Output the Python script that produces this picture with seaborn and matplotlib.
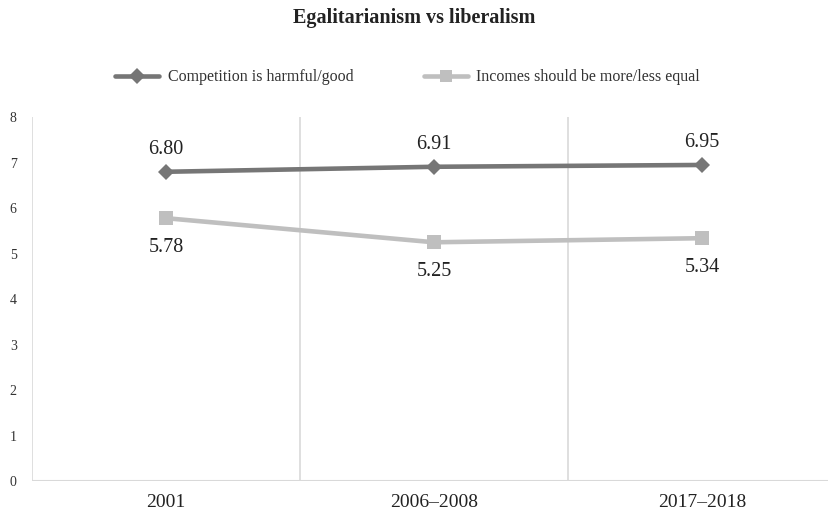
import pandas as pd
import matplotlib.pyplot as plt
import seaborn as sns

# -------------------------------------------------
# DATA
# -------------------------------------------------
periods = ["2001", "2006\u20132008", "2017\u20132018"]
competition = [6.80, 6.91, 6.95]
incomes = [5.78, 5.25, 5.34]
series_names = ["Competition is harmful/good", "Incomes should be more/less equal"]
y_ticks = [0, 1, 2, 3, 4, 5, 6, 7, 8]

df = pd.DataFrame({
    "period": periods * 2,
    "value": competition + incomes,
    "series": [series_names[0]] * 3 + [series_names[1]] * 3,
})

sns.set_style("white")
plt.rcParams["font.family"] = ["Liberation Serif", "DejaVu Serif"]

colors = {series_names[0]: "#767676", series_names[1]: "#bfbfbf"}
markers = {series_names[0]: "D", series_names[1]: "s"}

fig = plt.figure(figsize=(8.29, 5.14), dpi=100)
ax = fig.add_axes([0.0386, 0.064, 0.9614, 0.708])

sns.lineplot(data=df, x="period", y="value", hue="series", style="series",
             palette=colors, markers=markers, dashes=False, linewidth=3.3,
             markersize=9, markeredgewidth=0, sort=False, ax=ax, legend=False)

# diamond looks bigger than square at the same size
ax.lines[0].set_markersize(8.5)
ax.lines[1].set_markersize(10)

for i, v in enumerate(competition):
    ax.annotate(f"{v:.2f}", (i, v), xytext=(0, 9), textcoords="offset points",
                ha="center", va="bottom", fontsize=14.5, color="#222222")
for i, v in enumerate(incomes):
    ax.annotate(f"{v:.2f}", (i, v), xytext=(0, -14), textcoords="offset points",
                ha="center", va="top", fontsize=14.5, color="#222222")

# vertical category separators
for xb in [-0.5, 0.5, 1.5]:
    ax.axvline(xb, color="#d9d9d9", linewidth=1.2, zorder=0)
ax.axhline(0, color="#d9d9d9", linewidth=1.5, zorder=0)

ax.set_xlim(-0.5, 2.474)
ax.set_ylim(0, 8)
ax.set_yticks(y_ticks)
ax.set_xlabel("")
ax.set_ylabel("")
for s in ax.spines.values():
    s.set_visible(False)
ax.tick_params(axis="y", length=0, labelsize=10, pad=11, labelcolor="#333333")
ax.tick_params(axis="x", length=0, labelsize=14, pad=9, labelcolor="#222222")

fig.suptitle("Egalitarianism vs liberalism", y=0.985, fontsize=14.5,
             fontweight="bold", color="#222222")

# legend built from the drawn lines
leg = fig.legend(ax.lines[:2], series_names, loc="center",
                 bbox_to_anchor=(0.4916, 0.850), ncol=2, frameon=False,
                 fontsize=11.5, handlelength=2.75, handletextpad=0.55,
                 columnspacing=4.4, labelcolor="#333333")
for h in leg.legend_handles:
    h.set_markersize(8)

fig.savefig("out.png", dpi=100)
